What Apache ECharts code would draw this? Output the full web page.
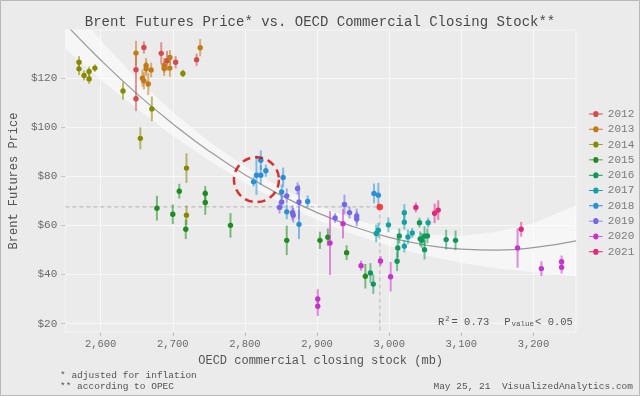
<!DOCTYPE html>
<html>
<head>
<meta charset="utf-8">
<title>Brent vs OECD stock</title>
<script src="https://cdn.jsdelivr.net/npm/echarts@6/dist/echarts.min.js"></script>
<style>
  body { margin: 0; background: #ebebeb; }
  #main { width: 640px; height: 396px; }
</style>
</head>
<body>
<div id="main"></div>
<script type="text/javascript">
// years shown in legend and their colours
var years = ['2012', '2013', '2014', '2015', '2016', '2017', '2018', '2019', '2020', '2021'];
var colors = ['#d6494c', '#c27a16', '#858a00', '#1f8c1f', '#10985a', '#17a0a2', '#2a8fd6', '#7566e8', '#c633cc', '#e0297c'];

// monthly points: [stock mb, price $, error half-length $]
var y2012 = [[2660, 132.4, 2.5], [2649, 123.3, 7], [2649, 111.5, 5], [2684, 130.0, 4.5], [2692, 127.0, 4], [2704, 126.4, 2.5], [2733, 127.4, 2.5]];
var y2013 = [[2649, 130.1, 5], [2663, 125.1, 3], [2663, 123.7, 3], [2670, 123.2, 3], [2658, 119.9, 3.5], [2660, 118.8, 3.5], [2666, 117.5, 4.5], [2688, 125.1, 3], [2688, 123.8, 3], [2696, 128.3, 3], [2696, 124.0, 3.5], [2738, 132.3, 3.5]];
var y2014 = [[2570, 126.4, 2.5], [2570, 123.7, 2.5], [2577, 121.0, 2], [2584, 122.6, 2], [2584, 119.6, 2], [2592, 124.0, 1.5], [2631, 114.7, 3.5], [2655, 95.4, 4.5], [2671, 107.4, 5], [2714, 121.8, 1.5], [2719, 83.3, 6], [2719, 64.1, 4]];
var y2015 = [[2678, 67.0, 5], [2700, 64.5, 4], [2709, 73.9, 3], [2718, 58.4, 4], [2745, 73.0, 3], [2745, 69.3, 5], [2780, 60.0, 5], [2858, 53.9, 6], [2904, 53.9, 3.5], [2915, 55.2, 3.5], [2941, 48.9, 3], [2967, 39.3, 5]];
var y2016 = [[2974, 40.6, 4], [2978, 36.1, 4], [3011, 45.4, 4], [3012, 50.8, 4], [3014, 55.7, 3], [3042, 61.1, 2], [3043, 54.5, 3], [3045, 53.9, 3], [3049, 55.6, 4], [3053, 55.7, 3], [3049, 50.1, 4], [3079, 54.2, 4], [3092, 53.9, 4]];
var y2017 = [[2982, 56.7, 3.5], [2985, 58.0, 3], [2999, 60.2, 3], [3021, 65.1, 3.5], [3021, 61.3, 3], [3021, 51.5, 2.5], [3026, 55.3, 3], [3032, 56.9, 2], [3054, 61.1, 2]];
var y2018 = [[2812, 77.7, 2], [2816, 80.4, 8], [2822, 86.5, 4], [2822, 80.4, 4], [2829, 82.2, 2.5], [2853, 79.5, 4], [2851, 73.6, 3], [2858, 65.5, 3], [2875, 60.4, 6], [2887, 69.7, 2.5], [2979, 73.0, 4], [2985, 72.3, 5]];
var y2019 = [[2848, 67.3, 2.5], [2851, 69.5, 2.5], [2858, 72.0, 3], [2866, 65.1, 3], [2867, 64.1, 3], [2873, 75.0, 2.5], [2875, 69.5, 7], [2925, 63.0, 2], [2938, 68.5, 4], [2945, 65.2, 2.5], [2955, 63.8, 3], [2955, 62.6, 3]];
var y2020 = [[2918, 52.8, 13], [2901, 30.0, 4], [2901, 27.1, 4], [2936, 60.7, 6], [2961, 43.6, 2], [2988, 45.5, 2], [3002, 39.1, 6], [3178, 50.8, 8], [3211, 42.4, 3], [3239, 45.2, 2.5], [3239, 42.9, 2.5]];
var y2021 = [[3037, 67.3, 2], [3063, 64.9, 4], [3068, 66.2, 4], [3183, 58.4, 3]];
var byYear = [y2012, y2013, y2014, y2015, y2016, y2017, y2018, y2019, y2020, y2021];

// latest reading (highlighted red with crosshair)
var current = [2987, 67.5];
// dashed circle around the 2018 cluster
var circleAt = [2816, 78.6];

// quadratic fit and its confidence band
var fitX = [2551, 2600, 2650, 2700, 2750, 2800, 2850, 2900, 2950, 3000, 3050, 3100, 3150, 3200, 3259];
var fitY = [142.0, 127.3, 113.6, 101.3, 90.3, 80.6, 72.2, 65.2, 59.5, 55.1, 52.0, 50.3, 49.9, 50.9, 53.7];
var bandLo = [132.0, 119.3, 107.6, 96.5, 86.5, 77.3, 69.2, 62.2, 56.4, 51.6, 47.7, 44.8, 42.4, 40.9, 39.2];
var bandHi = [152.0, 135.3, 119.6, 106.1, 94.1, 83.9, 75.2, 68.2, 62.6, 58.6, 56.3, 55.8, 57.4, 60.9, 68.2];

// axes
var xMin = 2551, xMax = 3259, yMin = 16.6, yMax = 139.5;
var xTicks = [2600, 2700, 2800, 2900, 3000, 3100, 3200];
var yTicks = [20, 40, 60, 80, 100, 120];

var mono = 'Liberation Mono';
var legendIcon = 'path://M0,4 L5,4 A3,3 0 1 1 11,4 L16,4 L16,5 L11,5 A3,3 0 1 1 5,5 L0,5 Z';

function renderPoint(params, api) {
  var x = api.value(0), y = api.value(1), e = api.value(2);
  var p = api.coord([x, y]);
  var hi = api.coord([x, y + e]);
  var lo = api.coord([x, y - e]);
  var c = api.visual('color');
  return {
    type: 'group',
    children: [
      { type: 'line', shape: { x1: p[0], y1: hi[1], x2: p[0], y2: lo[1] }, style: { stroke: c, lineWidth: 2, opacity: 0.55 } },
      { type: 'circle', shape: { cx: p[0], cy: p[1], r: 2.7 }, style: { fill: c } }
    ]
  };
}

// band drawn as one polygon: upper edge left->right, lower edge right->left
function renderBand(params, api) {
  if (params.dataIndex !== 0) return null;
  var pts = [];
  for (var i = 0; i < fitX.length; i++) pts.push(api.coord([fitX[i], bandHi[i]]));
  for (var j = fitX.length - 1; j >= 0; j--) pts.push(api.coord([fitX[j], bandLo[j]]));
  return {
    type: 'polygon',
    shape: { points: pts },
    style: { fill: 'rgba(255,255,255,0.55)' }
  };
}

var series = [];

series.push({
  type: 'custom', renderItem: renderBand, silent: true, clip: true, z: 1,
  encode: { x: 0, y: 1 },
  data: [[fitX[0], fitY[0]]]
});

// crosshair to the latest point
series.push({
  type: 'line', symbol: 'none', silent: true, z: 2,
  lineStyle: { color: '#bdbdbd', width: 1.2, type: [4, 3] },
  data: [[xMin, current[1]], [current[0], current[1]], [current[0], yMin]]
});

// fit line
series.push({
  type: 'line', smooth: true, symbol: 'none', silent: true, z: 3,
  lineStyle: { color: '#9a9a9a', width: 1.2 },
  data: fitX.map(function (x, i) { return [x, fitY[i]]; })
});

years.forEach(function (yr, i) {
  series.push({
    name: yr, type: 'custom', renderItem: renderPoint, z: 4,
    itemStyle: { color: colors[i] },
    encode: { x: 0, y: 1 },
    data: byYear[i]
  });
});

series.push({
  type: 'scatter', silent: true, z: 5, symbolSize: 6.5,
  itemStyle: { color: '#ff1515' },
  data: [current]
});

series.push({
  type: 'scatter', silent: true, z: 6, symbol: 'circle', symbolSize: 45,
  itemStyle: { color: 'rgba(0,0,0,0)', borderColor: '#d40000', borderWidth: 2.5, borderType: [8, 5] },
  data: [circleAt]
});

var myChart = echarts.init(document.getElementById('main'));
var option = {
  backgroundColor: '#ebebeb',
  animation: false,
  color: colors,
  title: {
    text: 'Brent Futures Price* vs. OECD Commercial Closing Stock**',
    left: 'center', top: 10,
    textStyle: { fontFamily: mono, fontSize: 14, fontWeight: 'normal', color: '#4a4a4a' }
  },
  legend: {
    orient: 'vertical', left: 584, top: 103,
    itemWidth: 14, itemHeight: 6, itemGap: 3.3,
    textStyle: { fontFamily: mono, fontSize: 11, color: '#7a7a7a', lineHeight: 12 },
    data: years.map(function (y) { return { name: y, icon: legendIcon }; })
  },
  grid: {
    left: 60, right: 64, top: 30, bottom: 64,
    show: true, borderColor: '#f6f6f6', borderWidth: 1, backgroundColor: 'transparent'
  },
  xAxis: {
    type: 'value', min: xMin, max: xMax,
    name: 'OECD commercial closing stock (mb)', nameLocation: 'middle', nameGap: 23,
    nameTextStyle: { fontFamily: mono, fontSize: 12, color: '#555' },
    axisLine: { show: false },
    axisTick: { show: true, length: 4, lineStyle: { color: '#c4c4c4' }, customValues: xTicks },
    axisLabel: {
      fontFamily: mono, fontSize: 10.5, color: '#6a6a6a', margin: 7, customValues: xTicks,
      formatter: function (v) { return v.toLocaleString('en-US'); }
    },
    splitLine: { lineStyle: { color: '#f8f8f8', width: 1 } }
  },
  yAxis: {
    type: 'value', min: yMin, max: yMax,
    name: 'Brent Futures Price', nameLocation: 'middle', nameGap: 42,
    nameTextStyle: { fontFamily: mono, fontSize: 12, color: '#555' },
    axisLine: { show: false },
    axisTick: { show: true, length: 4, lineStyle: { color: '#c4c4c4' }, customValues: yTicks },
    axisLabel: {
      fontFamily: mono, fontSize: 11, color: '#6a6a6a', margin: 8, customValues: yTicks,
      formatter: function (v) { return '$' + v; }
    },
    splitLine: { lineStyle: { color: '#f8f8f8', width: 1 } }
  },
  graphic: [
    {
      type: 'text', left: 438, top: 316, z: 10,
      style: {
        text: '{n|R}{sup|2}{n|= 0.73}{gap| }{n|P}{sub|value}{n|< 0.05}',
        rich: {
          n: { fontFamily: mono, fontSize: 10.5, fill: '#555', padding: [0, 1, 0, 0] },
          sup: { fontFamily: mono, fontSize: 7, fill: '#555', verticalAlign: 'top', padding: [0, 2, 5, 0] },
          sub: { fontFamily: mono, fontSize: 7.5, fill: '#555', verticalAlign: 'bottom', padding: [4, 1, 0, 0] },
          gap: { fontFamily: mono, fontSize: 10.5, width: 14 }
        }
      }
    },
    { type: 'text', left: 60, top: 370, style: { text: '* adjusted for inflation', font: '9.5px "Liberation Mono"', fill: '#555' } },
    { type: 'text', left: 60, top: 381, style: { text: '** according to OPEC', font: '9.5px "Liberation Mono"', fill: '#555' } },
    { type: 'text', right: 7, top: 381, style: { text: 'May 25, 21  VisualizedAnalytics.com', font: '9.5px "Liberation Mono"', fill: '#555' } },
    { type: 'rect', shape: { x: 0.5, y: 0.5, width: 639, height: 395 }, style: { fill: 'none', stroke: '#b8b8b8', lineWidth: 1 }, silent: true }
  ],
  series: series
};
myChart.setOption(option);
</script>
</body>
</html>
